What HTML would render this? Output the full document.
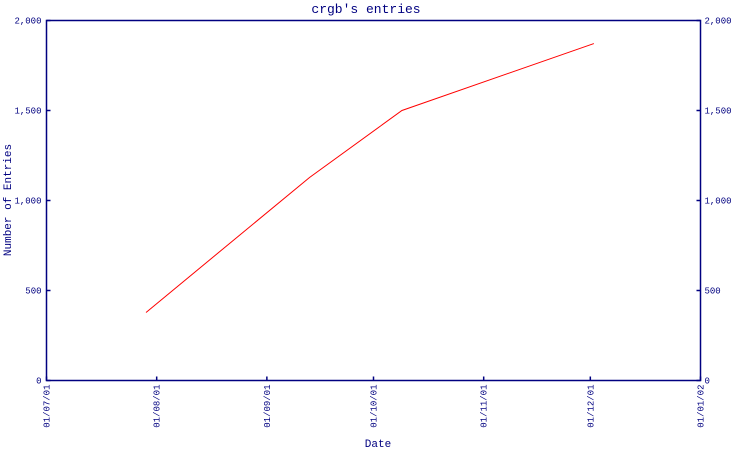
<!DOCTYPE html>
<html><head><meta charset="utf-8"><style>
body{margin:0;background:#fff;}
svg text{font-family:"Liberation Mono",monospace;fill:#000080;}
</style></head><body>
<svg width="750" height="450" xmlns="http://www.w3.org/2000/svg">
<text x="366" y="13" font-size="13" text-anchor="middle">crgb's entries</text>
<g id="axes"></g>
<text x="378" y="447" font-size="11" text-anchor="middle">Date</text>
<text transform="translate(11,200) rotate(-90)" font-size="11" text-anchor="middle">Number of Entries</text>
</svg>
<script>
const dates=["2001-07-29","2001-09-13","2001-10-09","2001-12-02"];
const values=[378,1128,1500,1872];
const yTicks=[0,500,1000,1500,2000];
const yTickLabels=["0","500","1,000","1,500","2,000"];
const xTickDates=["2001-07-01","2001-08-01","2001-09-01","2001-10-01","2001-11-01","2001-12-01","2002-01-01"];
const xTickLabels=["01/07/01","01/08/01","01/09/01","01/10/01","01/11/01","01/12/01","01/01/02"];
const L=46.5,R=700.5,T=20.5,B=380.5;
const t0=Date.parse("2001-07-01"),t1=Date.parse("2002-01-01");
const xs=d=>L+(Date.parse(d)-t0)/(t1-t0)*(R-L);
const ys=v=>B-v/2000*(B-T);
const g=document.getElementById('axes');
const NS="http://www.w3.org/2000/svg";
function mk(tag,attrs){const e=document.createElementNS(NS,tag);for(const k in attrs)e.setAttribute(k,attrs[k]);g.appendChild(e);return e;}
const frame=mk('rect',{x:L,y:T,width:R-L,height:B-T,fill:'none',stroke:'#000080','stroke-width':1.5});


yTicks.forEach((v,i)=>{
 const y=ys(v);
 const t1e=mk('line',{x1:L,x2:L+4,y1:y,y2:y,stroke:'#000080','stroke-width':1.5});
 
 
 const t2e=mk('line',{x1:R-4,x2:R,y1:y,y2:y,stroke:'#000080','stroke-width':1.5});
 
 
 const a=mk('text',{x:L-5,y:y+3,'font-size':9,'text-anchor':'end'});a.textContent=yTickLabels[i];
 
 
 const b=mk('text',{x:R+4,y:y+3,'font-size':9,'text-anchor':'start'});b.textContent=yTickLabels[i];
 
 
});
xTickDates.forEach((d,i)=>{
 const x=xs(d);
 const t=mk('line',{x1:x,x2:x,y1:B-4,y2:B,stroke:'#000080','stroke-width':1.5});
 
 
 const l=mk('text',{transform:`translate(${x+3},${B+4}) rotate(-90)`,'font-size':9,'text-anchor':'end'});l.textContent=xTickLabels[i];
 
 
});
const pts=dates.map((d,i)=>xs(d)+','+ys(values[i])).join(' ');
const line=mk('polyline',{points:pts,fill:'none',stroke:'#ff0000','stroke-width':1});


</script>
</body></html>
